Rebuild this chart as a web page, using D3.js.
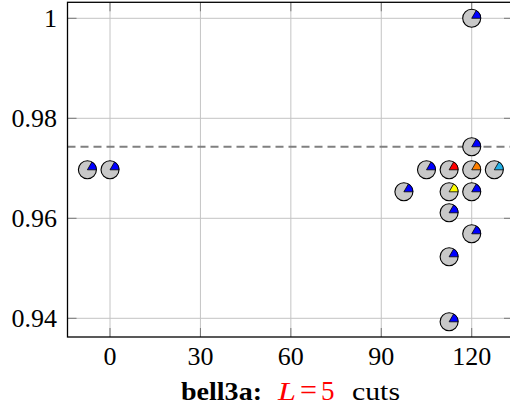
<!DOCTYPE html>
<html><head><meta charset="utf-8">
<script src="https://cdn.jsdelivr.net/npm/d3@7"></script>
<style>body{margin:0;background:#fff}svg{display:block}</style>
</head><body>
<script>
const xValues = [-7.5, 0, 120, 120, 105, 112.5, 120, 127.5, 97.5, 112.5, 120, 112.5, 120, 112.5, 112.5];
const yValues = [0.9697, 0.9697, 1.0, 0.9743, 0.9697, 0.9697, 0.9697, 0.9697, 0.9653, 0.9653, 0.9653, 0.9611, 0.9569, 0.9523, 0.9393];
const wedgeColors = ["blue","blue","blue","blue","blue","red","orange","cyan","blue","yellow","blue","blue","blue","blue","blue"];
const xTicks = [0, 30, 60, 90, 120];
const yTicks = [0.94, 0.96, 0.98, 1];
const yTickLabels = ["0.94", "0.96", "0.98", "1"];
const refLine = 0.9743;
const xDomain = [-14.1, 133.7];
const yDomain = [0.93626, 1.0032];

const colorMap = {blue:"#0000ff", red:"#ff0000", orange:"#ff8000", cyan:"#22b0e6", yellow:"#ffff00"};
const W = 510, H = 411;
const L = 67.5, R = 513, T = 2.3, B = 337;
const svg = d3.select("body").append("svg").attr("width", W).attr("height", H);
const x = d3.scaleLinear().domain(xDomain).range([L, R]);
const y = d3.scaleLinear().domain(yDomain).range([B, T]);
const font = "'Liberation Serif', 'DejaVu Serif', serif";

// grid
const g = svg.append("g");
g.selectAll(".vg").data(xTicks).join("line")
  .attr("x1", d => x(d)).attr("x2", d => x(d)).attr("y1", T).attr("y2", B)
  .attr("stroke", "#c4c4c4").attr("stroke-width", 1);
g.selectAll(".hg").data(yTicks).join("line")
  .attr("y1", d => y(d)).attr("y2", d => y(d)).attr("x1", L).attr("x2", R)
  .attr("stroke", "#c4c4c4").attr("stroke-width", 1);

// ticks (inner)
const tl = 9;
g.selectAll(".xb").data(xTicks).join("line")
  .attr("x1", d => x(d)).attr("x2", d => x(d)).attr("y1", B).attr("y2", B - tl)
  .attr("stroke", "#777").attr("stroke-width", 1);
g.selectAll(".xt").data(xTicks).join("line")
  .attr("x1", d => x(d)).attr("x2", d => x(d)).attr("y1", T).attr("y2", T + tl)
  .attr("stroke", "#777").attr("stroke-width", 1);
g.selectAll(".yl").data(yTicks).join("line")
  .attr("y1", d => y(d)).attr("y2", d => y(d)).attr("x1", L).attr("x2", L + tl)
  .attr("stroke", "#777").attr("stroke-width", 1);
g.selectAll(".yr").data(yTicks).join("line")
  .attr("y1", d => y(d)).attr("y2", d => y(d)).attr("x1", R).attr("x2", R - tl)
  .attr("stroke", "#777").attr("stroke-width", 1);

// dashed reference line
svg.append("line").attr("x1", L).attr("x2", R).attr("y1", y(refLine)).attr("y2", y(refLine))
  .attr("stroke", "#808080").attr("stroke-width", 2).attr("stroke-dasharray", "8,5");

// frame
svg.append("rect").attr("x", L).attr("y", T).attr("width", R - L).attr("height", B - T)
  .attr("fill", "none").attr("stroke", "#000").attr("stroke-width", 1.3);

// tick labels
svg.selectAll(".xtl").data(xTicks).join("text")
  .attr("x", d => x(d)).attr("y", 365).attr("text-anchor", "middle")
  .attr("font-family", font).attr("font-size", 26).text(d => d);
svg.selectAll(".ytl").data(yTicks).join("text")
  .attr("x", 57).attr("y", d => y(d) + 9).attr("text-anchor", "end")
  .attr("font-family", font).attr("font-size", 26).text((d, i) => yTickLabels[i]);

// title pieces
const tg = svg.append("g").attr("font-family", font).attr("font-size", 26);
tg.append("text").attr("x", 181).attr("y", 400).attr("font-weight", "bold")
  .attr("textLength", 81).attr("lengthAdjust", "spacingAndGlyphs").text("bell3a:");
tg.append("text").attr("x", 278).attr("y", 400).attr("fill", "#ff0000").attr("font-style", "italic")
  .attr("textLength", 18).attr("lengthAdjust", "spacingAndGlyphs").text("L");
tg.append("text").attr("x", 300).attr("y", 400).attr("fill", "#ff0000").attr("font-size", 29)
  .attr("textLength", 17).attr("lengthAdjust", "spacingAndGlyphs").text("=");
tg.append("text").attr("x", 321).attr("y", 400).attr("fill", "#ff0000").attr("font-size", 27).text("5");
tg.append("text").attr("x", 352).attr("y", 400)
  .attr("textLength", 48).attr("lengthAdjust", "spacingAndGlyphs").text("cuts");

// markers
const r = 9;
const pts = xValues.map((v, i) => ({x: v, y: yValues[i], c: wedgeColors[i]}));
const arc = d3.arc().innerRadius(0).outerRadius(r).startAngle(Math.PI / 2 - Math.PI / 3).endAngle(Math.PI / 2);
const mk = svg.selectAll(".mk").data(pts).join("g")
  .attr("transform", d => `translate(${x(d.x)},${y(d.y)})`);
mk.append("circle").attr("r", r).attr("fill", "#c8c8c8").attr("stroke", "#000").attr("stroke-width", 1.1);
mk.append("path").attr("d", arc).attr("fill", d => colorMap[d.c]).attr("stroke", "#000").attr("stroke-width", 0.8);
</script>
</body></html>
